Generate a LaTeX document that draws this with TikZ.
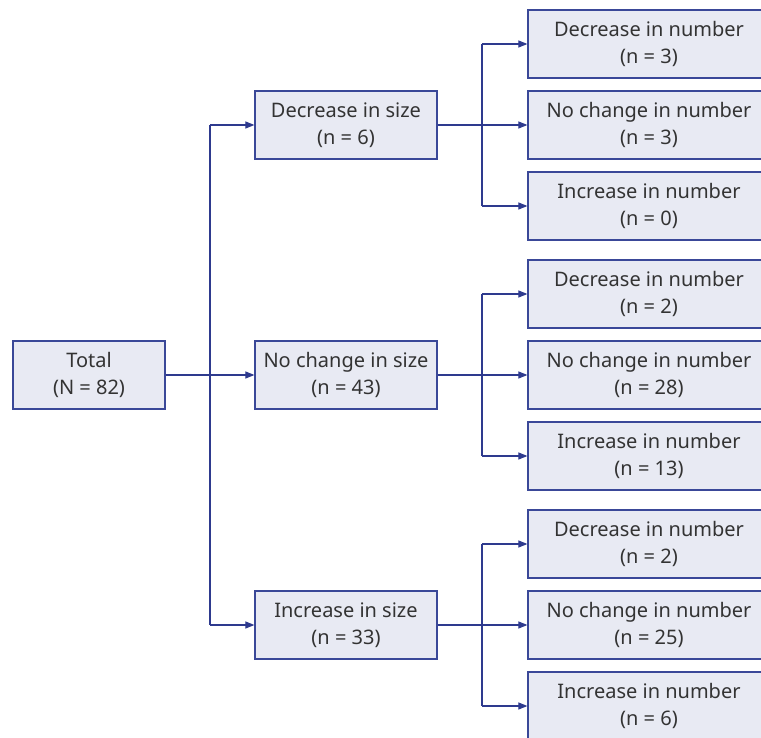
\documentclass[tikz,border=0pt]{standalone}
\usepackage{fontspec}
\setmainfont{Noto Sans}
\usetikzlibrary{arrows.meta}
\definecolor{boxfill}{HTML}{E8EAF3}
\definecolor{boxline}{HTML}{3A4898}
\definecolor{conn}{HTML}{2E3A8E}
\definecolor{txt}{HTML}{333333}
\tikzset{
  box/.style={draw=boxline, fill=boxfill, line width=1.2pt, inner sep=0pt,
    align=center, text=txt, font=\fontsize{20}{27}\selectfont},
  totbox/.style={box, minimum width=152pt, minimum height=68pt},
  midbox/.style={box, minimum width=182pt, minimum height=68pt},
  rbox/.style={box, minimum width=242pt, minimum height=68pt},
  conn/.style={draw=conn, line width=1.1pt},
  arr/.style={conn, -{Triangle[length=9pt,width=7pt]}}
}
\begin{document}
\begin{tikzpicture}[x=1pt,y=1pt]
\useasboundingbox (0,0) rectangle (761,-738);
\clip (0,0) rectangle (761,-738);
\node[totbox] (tot) at (89,-375) {Total\\(N = 82)};
\node[midbox] (m1) at (346,-125) {Decrease in size\\(n = 6)};
\node[midbox] (m2) at (346,-375) {No change in size\\(n = 43)};
\node[midbox] (m3) at (346,-625) {Increase in size\\(n = 33)};
\node[rbox] (r11) at (649,-44) {Decrease in number\\(n = 3)};
\node[rbox] (r12) at (649,-125) {No change in number\\(n = 3)};
\node[rbox] (r13) at (649,-206) {Increase in number\\(n = 0)};
\node[rbox] (r21) at (649,-294) {Decrease in number\\(n = 2)};
\node[rbox] (r22) at (649,-375) {No change in number\\(n = 28)};
\node[rbox] (r23) at (649,-456) {Increase in number\\(n = 13)};
\node[rbox] (r31) at (649,-544) {Decrease in number\\(n = 2)};
\node[rbox] (r32) at (649,-625) {No change in number\\(n = 25)};
\node[rbox] (r33) at (649,-706) {Increase in number\\(n = 6)};
% first level
\coordinate (j0) at (210,-375);
\draw[conn] (j0 |- m1.west) -- (j0 |- m3.west);
\draw[arr] (tot.east) -- (m2.west);
\draw[arr] (j0 |- m1.west) -- (m1.west);
\draw[arr] (j0 |- m3.west) -- (m3.west);
% second level
\foreach \m/\a/\b/\c in {m1/r11/r12/r13, m2/r21/r22/r23, m3/r31/r32/r33}{
  \coordinate (j) at (482,0);
  \draw[conn] (j |- \a.west) -- (j |- \c.west);
  \draw[arr] (\m.east) -- (\b.west);
  \draw[arr] (j |- \a.west) -- (\a.west);
  \draw[arr] (j |- \c.west) -- (\c.west);
}
\end{tikzpicture}
\end{document}
